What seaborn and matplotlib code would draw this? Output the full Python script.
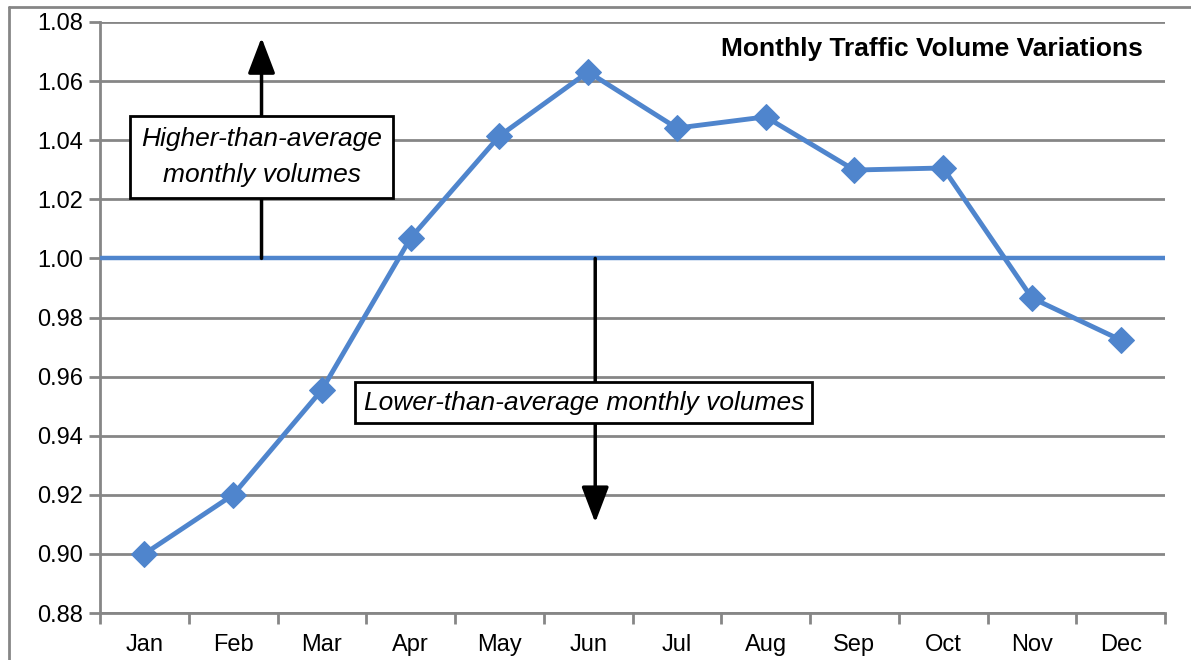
import matplotlib
matplotlib.use("Agg")
import matplotlib.pyplot as plt
from matplotlib.lines import Line2D
from matplotlib.ticker import FixedLocator, NullFormatter
import seaborn as sns
import pandas as pd

months = ["Jan", "Feb", "Mar", "Apr", "May", "Jun",
          "Jul", "Aug", "Sep", "Oct", "Nov", "Dec"]
factors = [0.900, 0.920, 0.9555, 1.0069, 1.0414, 1.0631,
           1.0441, 1.0479, 1.0299, 1.0306, 0.9866, 0.9724]
y_ticks = [0.88, 0.90, 0.92, 0.94, 0.96, 0.98, 1.00, 1.02, 1.04, 1.06, 1.08]
average = 1.00
title = "Monthly Traffic Volume Variations"
above_label = "Higher-than-average\nmonthly volumes"
below_label = "Lower-than-average monthly volumes"

sns.set_theme(style="white")
plt.rcParams["font.family"] = ["Liberation Sans", "DejaVu Sans"]
plt.rcParams["text.color"] = "black"
plt.rcParams["xtick.color"] = "black"
plt.rcParams["ytick.color"] = "black"

blue = "#4F85CD"
grey = "#868686"

fig = plt.figure(figsize=(11.91, 6.60), dpi=100)
ax = fig.add_axes([100 / 1191, 1 - 613 / 660, 1065 / 1191, 591 / 660])

df = pd.DataFrame({"pos": range(len(months)), "factor": factors})

ax.set_ylim(y_ticks[0], y_ticks[-1])
ax.set_xlim(-0.5, len(months) - 0.5)
ax.set_yticks(y_ticks)
ax.set_yticklabels([f"{v:.2f}" for v in y_ticks])
ax.grid(axis="y", color=grey, linewidth=2)
ax.set_axisbelow(True)

ax.axhline(average, color=blue, linewidth=3.2, zorder=3)

sns.lineplot(data=df, x="pos", y="factor", ax=ax, color=blue, linewidth=3.5,
             marker="D", markersize=13, markeredgecolor=blue, zorder=4)

ax.set_xticks(range(len(months)))
ax.set_xticklabels(months)
ax.xaxis.set_minor_locator(FixedLocator([i + 0.5 for i in range(-1, len(months))]))
ax.xaxis.set_minor_formatter(NullFormatter())
ax.tick_params(axis="x", which="major", length=0, pad=15, labelsize=17)
ax.tick_params(axis="x", which="minor", length=8, width=2, color=grey, bottom=True)
ax.tick_params(axis="y", length=8, width=2, color=grey, left=True, pad=4, labelsize=17)
ax.set_xlabel("")
ax.set_ylabel("")

for side in ("top", "right"):
    ax.spines[side].set_visible(False)
for side in ("left", "bottom"):
    ax.spines[side].set_color(grey)
    ax.spines[side].set_linewidth(2)

# arrows pointing away from the average line
arrow = dict(arrowstyle="-|>,head_length=1.1,head_width=0.42", mutation_scale=20,
             color="black", lw=2.5, shrinkA=0, shrinkB=0)
ax.annotate("", xy=(1.32, 1.0747), xytext=(1.32, average), arrowprops=arrow, zorder=5)
ax.annotate("", xy=(5.08, 0.9106), xytext=(5.08, average), arrowprops=arrow, zorder=5)

ax.text(1.32, 1.0343, above_label, ha="center", va="center", fontsize=19,
        style="italic", linespacing=1.6, zorder=6,
        bbox=dict(boxstyle="square,pad=0.42", facecolor="white", edgecolor="black",
                  linewidth=2))
ax.text(4.95, 0.9512, below_label, ha="center", va="center", fontsize=19,
        style="italic", zorder=6,
        bbox=dict(boxstyle="square,pad=0.32", facecolor="white", edgecolor="black",
                  linewidth=2))

ax.text(0.9795, 0.955, title, transform=ax.transAxes, ha="right", va="center",
        fontsize=19, fontweight="bold")

# outer frame
fig.add_artist(Line2D([9 / 1191, 9 / 1191], [0, 1 - 7 / 660], transform=fig.transFigure,
                      color=grey, linewidth=2))
fig.add_artist(Line2D([9 / 1191, 1], [1 - 7 / 660, 1 - 7 / 660], transform=fig.transFigure,
                      color=grey, linewidth=2))

fig.savefig("out.png", dpi=100)
